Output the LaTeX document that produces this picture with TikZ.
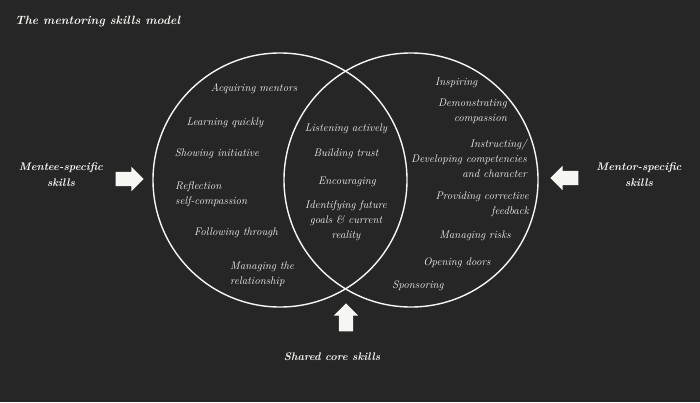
\documentclass[tikz,border=0pt]{standalone}
\usetikzlibrary{shapes.arrows}
\definecolor{board}{RGB}{38,38,38}
\definecolor{chalk}{RGB}{246,246,242}
\newlength{\ringsize}
\setlength{\ringsize}{254pt}
\tikzset{
    ring/.style={circle, draw=chalk, line width=1.4pt, minimum size=\ringsize, inner sep=0pt},
    skill/.style={text=chalk, font=\fontsize{11}{15}\selectfont\itshape, inner sep=0pt},
    side/.style={text=chalk, font=\fontsize{11}{16}\selectfont\bfseries\itshape, align=center, inner sep=0pt},
    pointer/.style={single arrow, fill=chalk, draw=none, minimum height=28pt, single arrow head extend=5pt, single arrow head indent=0pt, inner sep=7pt}
}

\begin{document}
\begin{tikzpicture}[x=1pt, y=-1pt]
    \fill[board] (0,0) rectangle (700,402);

    \node[side, font=\fontsize{12}{16}\selectfont\bfseries\itshape, anchor=west] (title) at (15,22) {The mentoring skills model};

    \node[ring] (mentee) at (280,180) {};
    \node[ring] (mentor) at (411,180) {};

    \node[skill] (acquiring) at (254,89) {Acquiring mentors};
    \node[skill] (learning) at (225,123) {Learning quickly};
    \node[skill] (initiative) at (217,154) {Showing initiative};
    \node[skill, anchor=west, align=left] (reflection) at (175,194) {Reflection\\self-compassion};
    \node[skill] (following) at (236,233) {Following through};
    \node[skill, anchor=west, align=left] (relationship) at (230,274) {Managing the\\relationship};

    \node[skill] (listening) at (346,129) {Listening actively};
    \node[skill] (trust) at (346,154) {Building trust};
    \node[skill] (encouraging) at (347,182) {Encouraging};
    \node[skill, align=center] (goals) at (346,221) {Identifying future\\goals \& current\\reality};

    \node[skill, anchor=west] (inspiring) at (435,83) {Inspiring};
    \node[skill, anchor=east, align=right] (compassion) at (507,111) {Demonstrating\\compassion};
    \node[skill, anchor=east, align=right] (instructing) at (527,158) {Instructing/\\Developing competencies\\and character};
    \node[skill, anchor=east, align=right] (feedback) at (529,204) {Providing corrective\\feedback};
    \node[skill] (risks) at (475,236) {Managing risks};
    \node[skill] (doors) at (457,263) {Opening doors};
    \node[skill] (sponsoring) at (418,286) {Sponsoring};

    \node[side] (menteeskills) at (61,175) {Mentee-specific\\skills};
    \node[pointer] (menteearrow) at (126,179) {};

    \node[side] (mentorskills) at (639,175) {Mentor-specific\\skills};
    \node[pointer, shape border rotate=180] (mentorarrow) at (568,178) {};

    \node[pointer, shape border rotate=90] (sharedarrow) at (346,321) {};
    \node[side] (sharedskills) at (332,357) {Shared core skills};
\end{tikzpicture}
\end{document}
